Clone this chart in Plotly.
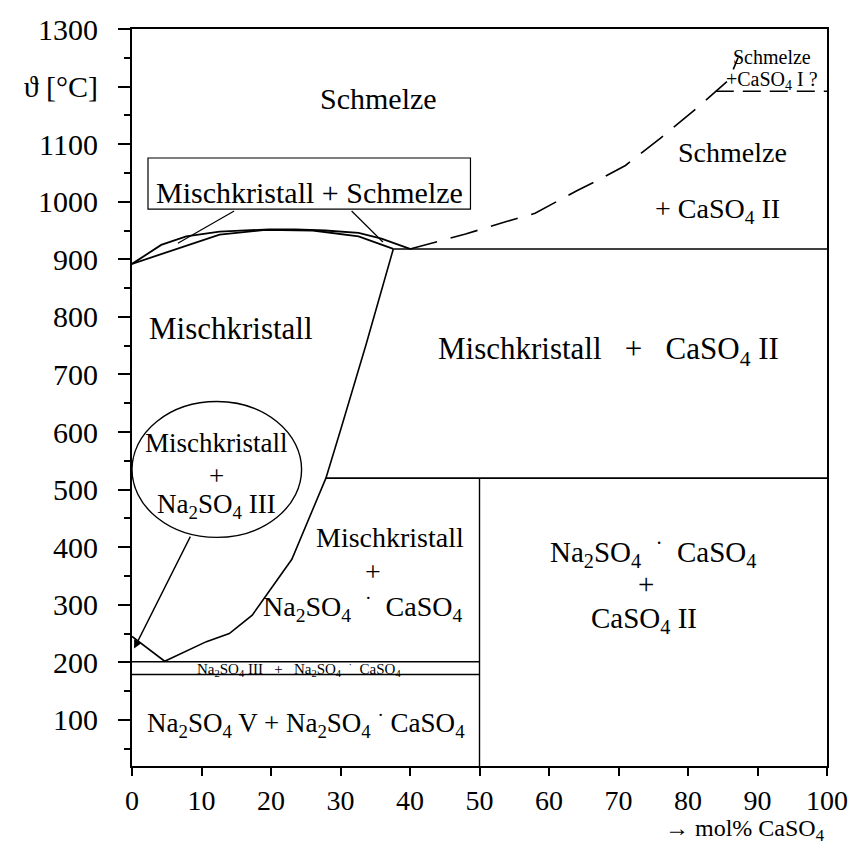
import plotly.graph_objects as go

SERIF = "Liberation Serif, Times New Roman, serif"

# ---------------- data ----------------
x_ticks = [0, 10, 20, 30, 40, 50, 60, 70, 80, 90, 100]
x_ticklabels = ["0", "10", "20", "30", "40", "50", "60", "70", "80", "90", "100"]
y_ticks = [100, 200, 300, 400, 500, 600, 700, 800, 900, 1000, 1100, 1200, 1300]
y_ticklabels = ["100", "200", "300", "400", "500", "600", "700", "800", "900",
                "1000", "1100", "ϑ [°C]", "1300"]
y_minor = [50, 150, 250, 350, 450, 550, 650, 750, 850, 950, 1050, 1150, 1250]

# liquidus / solidus of the solid solution
liquidus_x = [0, 4.2, 7.8, 12.6, 19.7, 23.5, 27.8, 32.6, 35.9, 40]
liquidus_T = [892, 925, 940, 948, 952, 952, 950, 946, 936, 918]
solidus_x = [0, 12.6, 19.2, 26, 32.6, 37.6]
solidus_T = [892, 943, 951, 950, 940, 918]

# solvus of the solid solution (Mischkristall boundary)
solvus_x = [37.6, 33.7, 30.0, 27.9, 23.0, 17.3, 14.0, 10.7, 4.7, 0]
solvus_T = [918, 753, 603, 520, 379, 282, 250, 236, 202, 245]

# CaSO4 liquidus (dashed)
caso4_liq_x = [40, 48, 54, 58, 64, 67, 71, 76, 81.6, 84, 85.9, 87.2]
caso4_liq_T = [918, 944, 966, 980, 1019, 1037, 1063, 1110, 1166, 1192, 1212, 1250]

# invariant / horizontal lines
eutectic_x = [37.6, 100]
eutectic_T = [918, 918]
line520_x = [27.9, 100]
line520_T = [520, 520]
line201_x = [0, 50]
line201_T = [201, 201]
line179_x = [0, 50]
line179_T = [179, 179]
vert50_x = [50, 50]
vert50_T = [20, 520]
caso4_trans_x = [84, 100]
caso4_trans_T = [1192, 1192]

# label box and its pointer lines
box_x = [2.3, 48.7]
box_T = [987, 1076]
tie1_x = [14.7, 6.6]
tie1_T = [984, 928]
tie2_x = [31.6, 36.1]
tie2_T = [984, 930]

# ellipse label and arrow
ellipse_x = [0, 24.4]
ellipse_T = [417, 653]
arrow_tail = (8.5, 421)
arrow_head = (0.3, 224)

DOT = "  <sup>·</sup>  "
labels = [
    ("Schmelze", 35.4, 1180, 30),
    ("Schmelze", 86.4, 1086, 28),
    ("+ CaSO<sub>4</sub> II", 84.3, 984, 28),
    ("Mischkristall + Schmelze", 25.6, 1016, 30),
    ("Mischkristall", 14.3, 780, 31),
    ("Mischkristall   +   CaSO<sub>4</sub> II", 68.6, 741, 31),
    ("Mischkristall", 12.2, 581, 27),
    ("+", 12.2, 524, 27),
    ("Na<sub>2</sub>SO<sub>4</sub> III", 12.2, 472, 27),
    ("Mischkristall", 37.1, 417, 28),
    ("+", 34.7, 357, 28),
    ("Na<sub>2</sub>SO<sub>4</sub>" + DOT + "CaSO<sub>4</sub>", 33.2, 297, 28),
    ("Na<sub>2</sub>SO<sub>4</sub>" + DOT + "CaSO<sub>4</sub>", 75.0, 391, 29),
    ("+", 74.0, 336, 29),
    ("CaSO<sub>4</sub> II", 73.6, 274, 29),
    ("Na<sub>2</sub>SO<sub>4</sub> III   +   Na<sub>2</sub>SO<sub>4</sub>  <sup>·</sup>  CaSO<sub>4</sub>",
     24.0, 189, 15),
    ("Na<sub>2</sub>SO<sub>4</sub> V + Na<sub>2</sub>SO<sub>4</sub> <sup>·</sup> CaSO<sub>4</sub>", 25.0, 95, 27),
    ("Schmelze", 92.1, 1252, 20),
    ("+CaSO<sub>4</sub> I ?", 92.1, 1210, 20),
]

# ---------------- figure ----------------
fig = go.Figure()


def add_line(xs, ys, width=1.6, dash="solid"):
    fig.add_trace(go.Scatter(x=xs, y=ys, mode="lines",
                             line=dict(color="black", width=width, dash=dash),
                             showlegend=False, hoverinfo="skip"))


add_line(liquidus_x, liquidus_T, 1.8)
add_line(solidus_x, solidus_T, 1.8)
add_line(solvus_x, solvus_T, 1.6)
add_line(caso4_liq_x, caso4_liq_T, 1.6, "28px,14px")
add_line(eutectic_x, eutectic_T, 1.6)
add_line(line520_x, line520_T, 1.6)
add_line(line201_x, line201_T, 1.4)
add_line(line179_x, line179_T, 1.4)
add_line(vert50_x, vert50_T, 1.4)
add_line(caso4_trans_x, caso4_trans_T, 1.6, "18px,9px")
add_line(tie1_x, tie1_T, 1.2)
add_line(tie2_x, tie2_T, 1.2)

fig.add_shape(type="rect", xref="x", yref="y",
              x0=box_x[0], x1=box_x[1], y0=box_T[0], y1=box_T[1],
              line=dict(color="black", width=1.2))
fig.add_shape(type="circle", xref="x", yref="y",
              x0=ellipse_x[0], x1=ellipse_x[1], y0=ellipse_T[0], y1=ellipse_T[1],
              line=dict(color="black", width=1.4))

fig.add_annotation(x=arrow_head[0], y=arrow_head[1], ax=arrow_tail[0], ay=arrow_tail[1],
                   xref="x", yref="y", axref="x", ayref="y", text="",
                   showarrow=True, arrowhead=2, arrowsize=1.2, arrowwidth=1.4,
                   arrowcolor="black")

for text, x, y, size in labels:
    fig.add_annotation(x=x, y=y, xref="x", yref="y", text=text, showarrow=False,
                       font=dict(family=SERIF, size=size, color="black"))

fig.add_annotation(x=1.0, y=-0.087, xref="paper", yref="paper",
                   text="→ mol% CaSO<sub>4</sub>", showarrow=False,
                   xanchor="right", yanchor="middle",
                   font=dict(family=SERIF, size=24, color="black"))

fig.update_layout(
    width=860, height=845,
    margin=dict(l=132, r=28, t=22, b=79),
    paper_bgcolor="white", plot_bgcolor="white",
    font=dict(family=SERIF, color="black"),
)
fig.update_xaxes(range=[0, 100], tickvals=x_ticks, ticktext=x_ticklabels,
                 ticks="outside", ticklen=8, tickwidth=2, tickcolor="black",
                 showline=True, linewidth=2, linecolor="black", mirror=True,
                 showgrid=False, zeroline=False,
                 tickfont=dict(family=SERIF, size=28, color="black"),
                 ticklabelstandoff=0)
fig.update_yaxes(range=[20, 1300], tickvals=y_ticks, ticktext=y_ticklabels,
                 ticks="outside", ticklen=12, tickwidth=2, tickcolor="black",
                 minor=dict(tickvals=y_minor, ticks="outside", ticklen=6,
                            tickwidth=2, tickcolor="black"),
                 showline=True, linewidth=2, linecolor="black", mirror=True,
                 showgrid=False, zeroline=False,
                 tickfont=dict(family=SERIF, size=30, color="black"),
                 ticklabelstandoff=14)

fig.write_html("out.html")
